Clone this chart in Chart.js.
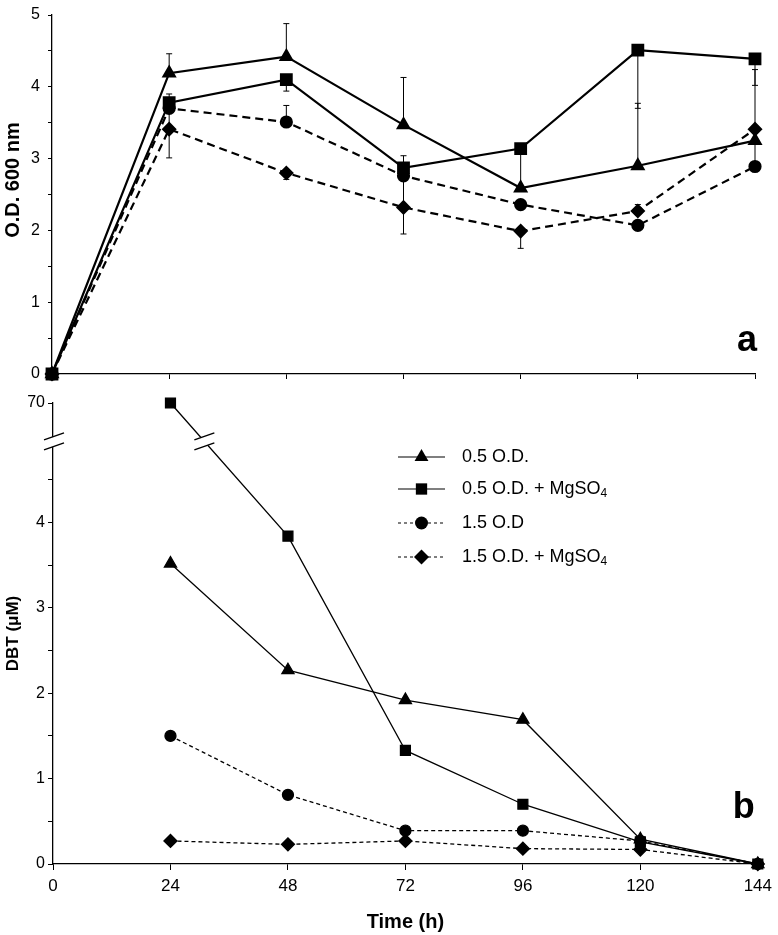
<!DOCTYPE html>
<html>
<head>
<meta charset="utf-8">
<script src="https://cdn.jsdelivr.net/npm/chart.js@4.4.1/dist/chart.umd.min.js"></script>
<style>
  body { margin: 0; background: #fff; }
  #wrap { position: relative; width: 778px; height: 935px; }
  #topBox { position: absolute; left: 0; top: -1px; width: 778px; height: 391px; }
  #botBox { position: absolute; left: 0; top: 390px; width: 778px; height: 545px; }
</style>
</head>
<body>
<div id="wrap">
  <div id="topBox"><canvas id="growth"></canvas></div>
  <div id="botBox"><canvas id="dbt"></canvas></div>
</div>
<script>
// time points (h)
const hours = [0, 24, 48, 72, 96, 120, 144];
const legendNames = ["0.5 O.D.", "0.5 O.D. + MgSO", "1.5 O.D", "1.5 O.D. + MgSO"];
const legendSubs = ["", "4", "", "4"];

// panel a - O.D. 600 nm
const odLow = [0, 4.19, 4.42, 3.47, 2.59, 2.90, 3.25];
const odLowMg = [0, 3.78, 4.10, 2.87, 3.14, 4.51, 4.39];
const odHigh = [0, 3.70, 3.51, 2.76, 2.36, 2.07, 2.89];
const odHighMg = [0, 3.41, 2.80, 2.32, 1.99, 2.27, 3.41];
// error bars (upper / lower), 0 = not drawn
const odLowPlus = [0, 0.27, 0.46, 0.66, 0, 0.87, 0];
const odLowMinus = [0, 0, 0, 0, 0, 0, 0];
const odLowMgPlus = [0, 0.12, 0, 0.17, 0, 0, 0];
const odLowMgMinus = [0, 0, 0.16, 0, 0.55, 0.81, 0.37];
const odHighPlus = [0, 0, 0.23, 0, 0, 0, 1.35];
const odHighMinus = [0, 0, 0, 0, 0, 0, 0];
const odHighMgPlus = [0, 0.40, 0, 0.44, 0, 0.09, 0];
const odHighMgMinus = [0, 0.40, 0.09, 0.37, 0.24, 0, 0];
const odTicks = [0, 0.5, 1, 1.5, 2, 2.5, 3, 3.5, 4, 4.5, 5];

// panel b - DBT (uM), first point of MgSO4 series is off-scale (70)
const dbtHours = [24, 48, 72, 96, 120, 144];
const dbtLow = [3.52, 2.27, 1.92, 1.69, 0.29, 0];
const dbtLowMg = [70, 3.84, 1.33, 0.70, 0.26, 0];
const dbtHigh = [1.50, 0.81, 0.39, 0.39, 0.27, 0];
const dbtHighMg = [0.27, 0.23, 0.27, 0.18, 0.17, 0];
const dbtTicks = [0, 0.5, 1, 1.5, 2, 2.5, 3, 3.5, 4, 4.5, 70];

const fontFam = "'Liberation Sans', Arial, sans-serif";
const black = "#000";

// y axis with a break between 5 and 70
const breakFrom = 5, breakTo = 70, breakSpan = 0.4, breakMark = 4.95;
function squash(v) {
  return v <= breakFrom ? v : breakFrom + (v - breakFrom) * breakSpan / (breakTo - breakFrom);
}
function unsquash(v) {
  return v <= breakFrom ? v : breakFrom + (v - breakFrom) * (breakTo - breakFrom) / breakSpan;
}
class BrokenLinearScale extends Chart.LinearScale {
  getPixelForValue(v) {
    return super.getPixelForValue(v == null ? v : squash(v));
  }
  getValueForPixel(p) {
    return unsquash(super.getValueForPixel(p));
  }
}
BrokenLinearScale.id = "brokenLinear";
BrokenLinearScale.defaults = Chart.LinearScale.defaults;
Chart.register(BrokenLinearScale);

function pts(xs, ys) {
  return xs.map((x, i) => ({ x: x, y: ys[i] }));
}

function axisStyle(tickLen) {
  return {
    grid: { drawOnChartArea: false, drawTicks: true, tickLength: tickLen, color: black, lineWidth: 1 },
    border: { display: true, color: black, width: 1.3 }
  };
}

const errorBars = {
  id: "errorBars",
  beforeDatasetsDraw(chart) {
    const { ctx, scales: { x, y } } = chart;
    const sets = [
      [odLow, odLowPlus, odLowMinus],
      [odLowMg, odLowMgPlus, odLowMgMinus],
      [odHigh, odHighPlus, odHighMinus],
      [odHighMg, odHighMgPlus, odHighMgMinus]
    ];
    ctx.save();
    ctx.strokeStyle = black;
    ctx.lineWidth = 1;
    sets.forEach(([vals, plus, minus]) => {
      hours.forEach((h, i) => {
        const px = x.getPixelForValue(h);
        const py = y.getPixelForValue(vals[i]);
        [[plus[i], 1], [minus[i], -1]].forEach(([e, dir]) => {
          if (!e) return;
          const ey = y.getPixelForValue(vals[i] + dir * e);
          ctx.beginPath();
          ctx.moveTo(px, py);
          ctx.lineTo(px, ey);
          ctx.moveTo(px - 3, ey);
          ctx.lineTo(px + 3, ey);
          ctx.stroke();
        });
      });
    });
    ctx.restore();
  }
};

// top y title sits a bit above the axis centre in the original
const odTitle = {
  id: "odTitle",
  afterDraw(chart) {
    const { ctx } = chart;
    ctx.save();
    ctx.translate(13.5, 181);
    ctx.rotate(-Math.PI / 2);
    ctx.fillStyle = black;
    ctx.font = "bold 20px " + fontFam;
    ctx.textAlign = "center";
    ctx.textBaseline = "middle";
    ctx.fillText("O.D. 600 nm", 0, 0);
    ctx.restore();
  }
};

function panelLetter(letter, dx, dy) {
  return {
    id: "letter" + letter,
    afterDraw(chart) {
      const { ctx, chartArea } = chart;
      ctx.save();
      ctx.fillStyle = black;
      ctx.font = "bold 36px " + fontFam;
      ctx.textAlign = "right";
      ctx.textBaseline = "middle";
      ctx.fillText(letter, chartArea.right + dx, chartArea.bottom + dy);
      ctx.restore();
    }
  };
}

// top panel
new Chart(document.getElementById("growth"), {
  type: "line",
  data: {
    datasets: [
      { label: legendNames[0], data: pts(hours, odLow), borderColor: black, backgroundColor: black,
        borderWidth: 2.2, pointStyle: "triangle", pointRadius: 6.5 },
      { label: legendNames[1], data: pts(hours, odLowMg), borderColor: black, backgroundColor: black,
        borderWidth: 2.2, pointStyle: "rect", pointRadius: 7.5 },
      { label: legendNames[2], data: pts(hours, odHigh), borderColor: black, backgroundColor: black,
        borderWidth: 2.2, borderDash: [8, 5], pointStyle: "circle", pointRadius: 5.5 },
      { label: legendNames[3], data: pts(hours, odHighMg), borderColor: black, backgroundColor: black,
        borderWidth: 2.2, borderDash: [8, 5], pointStyle: "rectRot", pointRadius: 6 }
    ]
  },
  options: {
    responsive: true,
    maintainAspectRatio: false,
    animation: false,
    clip: false,
    layout: { padding: { top: 8, right: 23, bottom: 0, left: 0 } },
    elements: { line: { tension: 0 }, point: { borderWidth: 0 } },
    plugins: { legend: { display: false }, tooltip: { enabled: false } },
    scales: {
      x: {
        type: "linear", min: 0, max: 144,
        afterBuildTicks: (s) => { s.ticks = hours.map((v) => ({ value: v })); },
        ticks: { callback: () => "", autoSkip: false },
        afterFit: (s) => { s.height = 14; },
        ...axisStyle(5)
      },
      y: {
        type: "linear", min: 0, max: 5,
        afterBuildTicks: (s) => { s.ticks = odTicks.map((v) => ({ value: v })); },
        ticks: {
          autoSkip: false, color: black, padding: 8,
          font: { family: fontFam, size: 16, lineHeight: 1 },
          callback: (v) => (Number.isInteger(v) ? String(v) : "")
        },
        afterFit: (s) => { s.width = 52; },
        ...axisStyle(4)
      }
    }
  },
  plugins: [errorBars, odTitle, panelLetter("a", 2, -33)]
});

// bottom panel
const breakMarks = {
  id: "breakMarks",
  afterDraw(chart) {
    const { ctx, scales: { y } } = chart;
    const by = y.getPixelForValue(breakMark);
    const slash = (cx, cy) => {
      ctx.save();
      ctx.fillStyle = "#fff";
      ctx.beginPath();
      ctx.moveTo(cx - 10, cy - 5 + 3.5);
      ctx.lineTo(cx + 10, cy - 5 - 3.5);
      ctx.lineTo(cx + 10, cy + 5 - 3.5);
      ctx.lineTo(cx - 10, cy + 5 + 3.5);
      ctx.closePath();
      ctx.fill();
      ctx.strokeStyle = black;
      ctx.lineWidth = 1.4;
      ctx.beginPath();
      ctx.moveTo(cx - 10, cy - 5 + 3.5);
      ctx.lineTo(cx + 10, cy - 5 - 3.5);
      ctx.moveTo(cx - 10, cy + 5 + 3.5);
      ctx.lineTo(cx + 10, cy + 5 - 3.5);
      ctx.stroke();
      ctx.restore();
    };
    slash(chart.chartArea.left + 1, by);
    const sq = chart.getDatasetMeta(1).data;
    const p1 = sq[0], p2 = sq[1];
    const t = (by - p1.y) / (p2.y - p1.y);
    slash(p1.x + t * (p2.x - p1.x), by);
  }
};

const dbtLegend = {
  id: "dbtLegend",
  afterDraw(chart) {
    const { ctx } = chart;
    const rowsY = [67, 99, 133, 167];
    const x0 = 398, x1 = 445, tx = 462;
    chart.data.datasets.forEach((ds, i) => {
      const yy = rowsY[i];
      ctx.save();
      ctx.strokeStyle = black;
      ctx.lineWidth = 1.2;
      ctx.setLineDash(ds.borderDash ? [3, 3] : []);
      ctx.beginPath();
      ctx.moveTo(x0, yy);
      ctx.lineTo(x1, yy);
      ctx.stroke();
      ctx.setLineDash([]);
      ctx.fillStyle = black;
      Chart.helpers.drawPoint(ctx, {
        pointStyle: ds.pointStyle, radius: ds.pointRadius + 1, rotation: 0, borderWidth: 0
      }, (x0 + x1) / 2, yy);
      ctx.restore();
    });
    ctx.save();
    ctx.fillStyle = black;
    ctx.textBaseline = "middle";
    legendNames.forEach((name, i) => {
      ctx.font = "18px " + fontFam;
      ctx.fillText(name, tx, rowsY[i]);
      if (legendSubs[i]) {
        const w = ctx.measureText(name).width;
        ctx.font = "12px " + fontFam;
        ctx.fillText(legendSubs[i], tx + w, rowsY[i] + 5);
      }
    });
    ctx.restore();
  }
};

new Chart(document.getElementById("dbt"), {
  type: "line",
  data: {
    datasets: [
      { label: legendNames[0], data: pts(dbtHours, dbtLow), borderColor: black, backgroundColor: black,
        borderWidth: 1.3, pointStyle: "triangle", pointRadius: 7 },
      { label: legendNames[1], data: pts(dbtHours, dbtLowMg), borderColor: black, backgroundColor: black,
        borderWidth: 1.3, pointStyle: "rect", pointRadius: 7 },
      { label: legendNames[2], data: pts(dbtHours, dbtHigh), borderColor: black, backgroundColor: black,
        borderWidth: 1.3, borderDash: [4, 3], pointStyle: "circle", pointRadius: 5.5 },
      { label: legendNames[3], data: pts(dbtHours, dbtHighMg), borderColor: black, backgroundColor: black,
        borderWidth: 1.3, borderDash: [4, 3], pointStyle: "rectRot", pointRadius: 6.5 }
    ]
  },
  options: {
    responsive: true,
    maintainAspectRatio: false,
    animation: false,
    clip: false,
    layout: { padding: { top: 13, right: 14, bottom: 0, left: 0 } },
    elements: { line: { tension: 0 }, point: { borderWidth: 0 } },
    plugins: { legend: { display: false }, tooltip: { enabled: false } },
    scales: {
      x: {
        type: "linear", min: 0, max: 144,
        afterBuildTicks: (s) => { s.ticks = hours.map((v) => ({ value: v })); },
        ticks: { autoSkip: false, color: black, padding: 6, maxRotation: 0,
          font: { family: fontFam, size: 17 } },
        title: {
          display: true, text: "Time (h)", color: black,
          font: { family: fontFam, size: 20, weight: "bold" },
          padding: { top: 0, bottom: 1 }
        },
        afterFit: (s) => { s.height = 71; },
        ...axisStyle(6)
      },
      y: {
        type: "brokenLinear", min: 0, max: squash(breakTo),
        afterBuildTicks: (s) => { s.ticks = dbtTicks.map((v) => ({ value: v })); },
        ticks: {
          autoSkip: false, color: black, padding: 3,
          font: { family: fontFam, size: 16, lineHeight: 1 },
          callback: (v) => (Number.isInteger(v) ? String(v) : "")
        },
        title: {
          display: true, text: "DBT (\u03bcM)", color: black,
          font: { family: fontFam, size: 17, weight: "bold" },
          padding: { top: 3, bottom: 0 }
        },
        afterFit: (s) => { s.width = 53; },
        ...axisStyle(5)
      }
    }
  },
  plugins: [breakMarks, dbtLegend, panelLetter("b", -3, -56)]
});
</script>
</body>
</html>
